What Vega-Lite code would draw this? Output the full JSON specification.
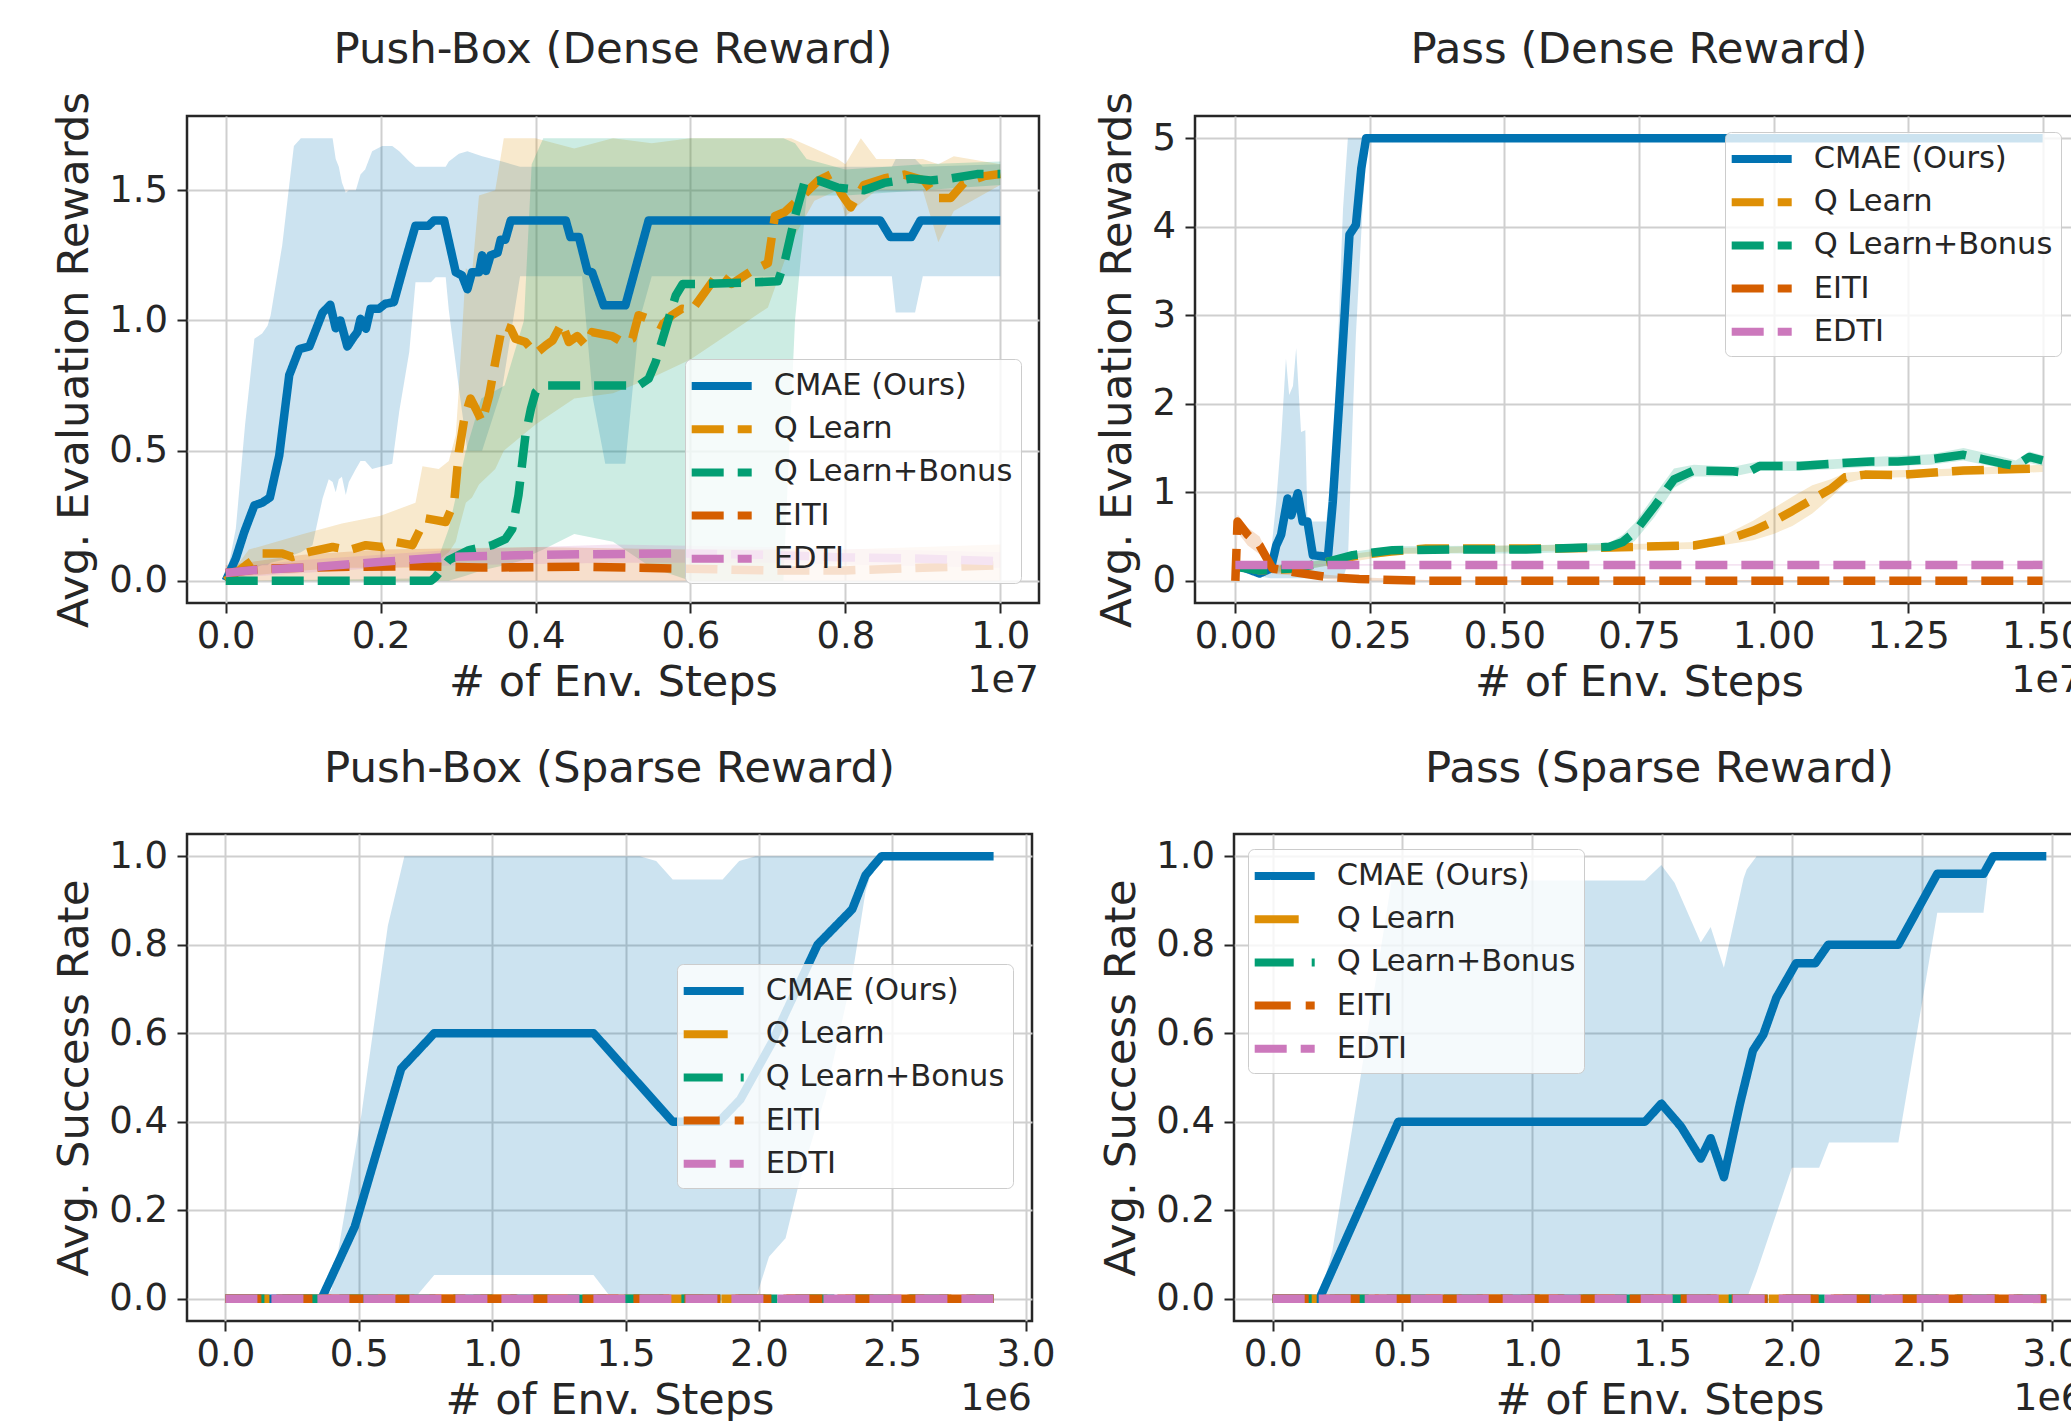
{
"$schema": "https://vega.github.io/schema/vega-lite/v6.json",
"padding": {"left": 51, "top": 26, "right": 0, "bottom": 0},
"background": "white",
"config": {
  "font": "DejaVu Sans",
  "view": {"stroke": "#262626", "strokeWidth": 2.5},
  "title": {"fontSize": 43.5, "fontWeight": "normal", "color": "#262626", "offset": 43, "anchor": "middle", "frame": "group"},
  "axis": {"domain": false, "grid": true, "gridColor": "#cfcfcf", "gridWidth": 2, "ticks": true, "tickSize": 10, "tickWidth": 2, "tickColor": "#262626", "labelFontSize": 37, "labelColor": "#262626", "labelPadding": 5, "labelFlush": false, "labelOverlap": false, "titleColor": "#262626", "titleFontWeight": "normal"},
  "axisX": {"titleFontSize": 43, "titlePadding": 7},
  "axisY": {"titleFontSize": 43.5, "titlePadding": 12, "labelPadding": 9.5},
  "legend": {"labelFontSize": 30.5, "labelColor": "#262626", "labelLimit": 1000, "fillColor": "rgba(255,255,255,0.8)", "strokeColor": "#cccccc", "cornerRadius": 6, "padding": 8, "rowPadding": 8.2, "symbolOffset": 9.7, "labelOffset": 33, "symbolStrokeWidth": 8, "symbolOpacity": 1}
},
"datasets": {
  "tl_mean": [
    {"s":"CMAE (Ours)","x":0,"y":0},{"s":"CMAE (Ours)","x":0.013,"y":0.086},{"s":"CMAE (Ours)","x":0.024,"y":0.188},{"s":"CMAE (Ours)","x":0.037,"y":0.29},{"s":"CMAE (Ours)","x":0.047,"y":0.30},{"s":"CMAE (Ours)","x":0.057,"y":0.32},{"s":"CMAE (Ours)","x":0.069,"y":0.48},{"s":"CMAE (Ours)","x":0.082,"y":0.79},{"s":"CMAE (Ours)","x":0.095,"y":0.89},{"s":"CMAE (Ours)","x":0.108,"y":0.90},{"s":"CMAE (Ours)","x":0.125,"y":1.03},{"s":"CMAE (Ours)","x":0.135,"y":1.06},{"s":"CMAE (Ours)","x":0.142,"y":0.97},{"s":"CMAE (Ours)","x":0.148,"y":1.0},{"s":"CMAE (Ours)","x":0.157,"y":0.90},{"s":"CMAE (Ours)","x":0.166,"y":0.94},{"s":"CMAE (Ours)","x":0.17,"y":0.955},{"s":"CMAE (Ours)","x":0.174,"y":1.006},{"s":"CMAE (Ours)","x":0.181,"y":0.968},{"s":"CMAE (Ours)","x":0.187,"y":1.045},{"s":"CMAE (Ours)","x":0.198,"y":1.045},{"s":"CMAE (Ours)","x":0.206,"y":1.064},{"s":"CMAE (Ours)","x":0.217,"y":1.07},{"s":"CMAE (Ours)","x":0.23,"y":1.21},{"s":"CMAE (Ours)","x":0.245,"y":1.364},{"s":"CMAE (Ours)","x":0.262,"y":1.364},{"s":"CMAE (Ours)","x":0.269,"y":1.384},{"s":"CMAE (Ours)","x":0.282,"y":1.384},{"s":"CMAE (Ours)","x":0.297,"y":1.185},{"s":"CMAE (Ours)","x":0.305,"y":1.173},{"s":"CMAE (Ours)","x":0.312,"y":1.12},{"s":"CMAE (Ours)","x":0.318,"y":1.185},{"s":"CMAE (Ours)","x":0.327,"y":1.185},{"s":"CMAE (Ours)","x":0.331,"y":1.25},{"s":"CMAE (Ours)","x":0.336,"y":1.19},{"s":"CMAE (Ours)","x":0.342,"y":1.25},{"s":"CMAE (Ours)","x":0.351,"y":1.26},{"s":"CMAE (Ours)","x":0.355,"y":1.31},{"s":"CMAE (Ours)","x":0.361,"y":1.31},{"s":"CMAE (Ours)","x":0.368,"y":1.384},{"s":"CMAE (Ours)","x":0.439,"y":1.384},{"s":"CMAE (Ours)","x":0.445,"y":1.32},{"s":"CMAE (Ours)","x":0.456,"y":1.32},{"s":"CMAE (Ours)","x":0.467,"y":1.19},{"s":"CMAE (Ours)","x":0.473,"y":1.185},{"s":"CMAE (Ours)","x":0.488,"y":1.058},{"s":"CMAE (Ours)","x":0.516,"y":1.058},{"s":"CMAE (Ours)","x":0.546,"y":1.384},{"s":"CMAE (Ours)","x":0.845,"y":1.384},{"s":"CMAE (Ours)","x":0.858,"y":1.32},{"s":"CMAE (Ours)","x":0.885,"y":1.32},{"s":"CMAE (Ours)","x":0.897,"y":1.384},{"s":"CMAE (Ours)","x":1.0,"y":1.384},
    {"s":"Q Learn","x":0,"y":0},{"s":"Q Learn","x":0.013,"y":0.03},{"s":"Q Learn","x":0.026,"y":0.06},{"s":"Q Learn","x":0.047,"y":0.105},{"s":"Q Learn","x":0.073,"y":0.105},{"s":"Q Learn","x":0.086,"y":0.092},{"s":"Q Learn","x":0.108,"y":0.111},{"s":"Q Learn","x":0.138,"y":0.13},{"s":"Q Learn","x":0.159,"y":0.118},{"s":"Q Learn","x":0.181,"y":0.137},{"s":"Q Learn","x":0.202,"y":0.13},{"s":"Q Learn","x":0.219,"y":0.15},{"s":"Q Learn","x":0.241,"y":0.137},{"s":"Q Learn","x":0.258,"y":0.24},{"s":"Q Learn","x":0.271,"y":0.233},{"s":"Q Learn","x":0.284,"y":0.226},{"s":"Q Learn","x":0.295,"y":0.303},{"s":"Q Learn","x":0.301,"y":0.495},{"s":"Q Learn","x":0.308,"y":0.623},{"s":"Q Learn","x":0.316,"y":0.70},{"s":"Q Learn","x":0.323,"y":0.66},{"s":"Q Learn","x":0.331,"y":0.61},{"s":"Q Learn","x":0.34,"y":0.71},{"s":"Q Learn","x":0.348,"y":0.84},{"s":"Q Learn","x":0.357,"y":0.98},{"s":"Q Learn","x":0.368,"y":0.968},{"s":"Q Learn","x":0.374,"y":0.93},{"s":"Q Learn","x":0.387,"y":0.917},{"s":"Q Learn","x":0.40,"y":0.872},{"s":"Q Learn","x":0.413,"y":0.904},{"s":"Q Learn","x":0.422,"y":0.923},{"s":"Q Learn","x":0.434,"y":0.99},{"s":"Q Learn","x":0.443,"y":0.917},{"s":"Q Learn","x":0.454,"y":0.94},{"s":"Q Learn","x":0.465,"y":0.904},{"s":"Q Learn","x":0.473,"y":0.955},{"s":"Q Learn","x":0.499,"y":0.94},{"s":"Q Learn","x":0.512,"y":0.917},{"s":"Q Learn","x":0.525,"y":0.93},{"s":"Q Learn","x":0.533,"y":1.02},{"s":"Q Learn","x":0.546,"y":1.006},{"s":"Q Learn","x":0.563,"y":0.98},{"s":"Q Learn","x":0.576,"y":1.02},{"s":"Q Learn","x":0.589,"y":1.045},{"s":"Q Learn","x":0.602,"y":1.04},{"s":"Q Learn","x":0.636,"y":1.18},{"s":"Q Learn","x":0.653,"y":1.14},{"s":"Q Learn","x":0.679,"y":1.19},{"s":"Q Learn","x":0.70,"y":1.22},{"s":"Q Learn","x":0.709,"y":1.40},{"s":"Q Learn","x":0.722,"y":1.417},{"s":"Q Learn","x":0.747,"y":1.485},{"s":"Q Learn","x":0.765,"y":1.537},{"s":"Q Learn","x":0.782,"y":1.562},{"s":"Q Learn","x":0.795,"y":1.485},{"s":"Q Learn","x":0.807,"y":1.434},{"s":"Q Learn","x":0.824,"y":1.52},{"s":"Q Learn","x":0.85,"y":1.545},{"s":"Q Learn","x":0.876,"y":1.56},{"s":"Q Learn","x":0.902,"y":1.537},{"s":"Q Learn","x":0.918,"y":1.47},{"s":"Q Learn","x":0.936,"y":1.47},{"s":"Q Learn","x":0.953,"y":1.528},{"s":"Q Learn","x":0.979,"y":1.554},{"s":"Q Learn","x":1.0,"y":1.562},
    {"s":"Q Learn+Bonus","x":0,"y":0},{"s":"Q Learn+Bonus","x":0.265,"y":0},{"s":"Q Learn+Bonus","x":0.271,"y":0.015},{"s":"Q Learn+Bonus","x":0.288,"y":0.08},{"s":"Q Learn+Bonus","x":0.314,"y":0.118},{"s":"Q Learn+Bonus","x":0.344,"y":0.137},{"s":"Q Learn+Bonus","x":0.361,"y":0.16},{"s":"Q Learn+Bonus","x":0.37,"y":0.2},{"s":"Q Learn+Bonus","x":0.378,"y":0.33},{"s":"Q Learn+Bonus","x":0.387,"y":0.56},{"s":"Q Learn+Bonus","x":0.394,"y":0.66},{"s":"Q Learn+Bonus","x":0.40,"y":0.725},{"s":"Q Learn+Bonus","x":0.409,"y":0.75},{"s":"Q Learn+Bonus","x":0.533,"y":0.75},{"s":"Q Learn+Bonus","x":0.546,"y":0.776},{"s":"Q Learn+Bonus","x":0.555,"y":0.84},{"s":"Q Learn+Bonus","x":0.568,"y":0.968},{"s":"Q Learn+Bonus","x":0.581,"y":1.096},{"s":"Q Learn+Bonus","x":0.59,"y":1.14},{"s":"Q Learn+Bonus","x":0.62,"y":1.14},{"s":"Q Learn+Bonus","x":0.713,"y":1.15},{"s":"Q Learn+Bonus","x":0.722,"y":1.23},{"s":"Q Learn+Bonus","x":0.735,"y":1.40},{"s":"Q Learn+Bonus","x":0.747,"y":1.528},{"s":"Q Learn+Bonus","x":0.765,"y":1.537},{"s":"Q Learn+Bonus","x":0.79,"y":1.51},{"s":"Q Learn+Bonus","x":0.824,"y":1.50},{"s":"Q Learn+Bonus","x":0.85,"y":1.528},{"s":"Q Learn+Bonus","x":0.885,"y":1.545},{"s":"Q Learn+Bonus","x":0.91,"y":1.537},{"s":"Q Learn+Bonus","x":0.936,"y":1.545},{"s":"Q Learn+Bonus","x":0.97,"y":1.562},{"s":"Q Learn+Bonus","x":1.0,"y":1.562},
    {"s":"EITI","x":0,"y":0.03},{"s":"EITI","x":0.05,"y":0.047},{"s":"EITI","x":0.16,"y":0.054},{"s":"EITI","x":0.245,"y":0.056},{"s":"EITI","x":0.33,"y":0.051},{"s":"EITI","x":0.46,"y":0.054},{"s":"EITI","x":0.59,"y":0.047},{"s":"EITI","x":0.7,"y":0.04},{"s":"EITI","x":0.8,"y":0.04},{"s":"EITI","x":0.9,"y":0.05},{"s":"EITI","x":1.0,"y":0.06},
    {"s":"EDTI","x":0,"y":0.03},{"s":"EDTI","x":0.03,"y":0.04},{"s":"EDTI","x":0.116,"y":0.054},{"s":"EDTI","x":0.202,"y":0.073},{"s":"EDTI","x":0.288,"y":0.092},{"s":"EDTI","x":0.374,"y":0.098},{"s":"EDTI","x":0.46,"y":0.102},{"s":"EDTI","x":0.589,"y":0.105},{"s":"EDTI","x":0.7,"y":0.1},{"s":"EDTI","x":0.8,"y":0.09},{"s":"EDTI","x":0.9,"y":0.085},{"s":"EDTI","x":1.0,"y":0.075}
  ],
  "tl_band": [
    {"s":"CMAE (Ours)","x":0,"lo":0,"hi":0},{"s":"CMAE (Ours)","x":0.013,"lo":0.02,"hi":0.2},{"s":"CMAE (Ours)","x":0.025,"lo":0.04,"hi":0.6},{"s":"CMAE (Ours)","x":0.037,"lo":0.05,"hi":0.93},{"s":"CMAE (Ours)","x":0.047,"lo":0.06,"hi":0.95},{"s":"CMAE (Ours)","x":0.054,"lo":0.06,"hi":0.98},{"s":"CMAE (Ours)","x":0.058,"lo":0.07,"hi":1.02},{"s":"CMAE (Ours)","x":0.073,"lo":0.08,"hi":1.29},{"s":"CMAE (Ours)","x":0.082,"lo":0.09,"hi":1.52},{"s":"CMAE (Ours)","x":0.088,"lo":0.1,"hi":1.67},{"s":"CMAE (Ours)","x":0.097,"lo":0.11,"hi":1.70},{"s":"CMAE (Ours)","x":0.112,"lo":0.137,"hi":1.70},{"s":"CMAE (Ours)","x":0.125,"lo":0.316,"hi":1.70},{"s":"CMAE (Ours)","x":0.133,"lo":0.39,"hi":1.70},{"s":"CMAE (Ours)","x":0.138,"lo":0.38,"hi":1.70},{"s":"CMAE (Ours)","x":0.142,"lo":0.34,"hi":1.62},{"s":"CMAE (Ours)","x":0.146,"lo":0.39,"hi":1.59},{"s":"CMAE (Ours)","x":0.15,"lo":0.40,"hi":1.53},{"s":"CMAE (Ours)","x":0.155,"lo":0.33,"hi":1.49},{"s":"CMAE (Ours)","x":0.159,"lo":0.38,"hi":1.50},{"s":"CMAE (Ours)","x":0.168,"lo":0.43,"hi":1.50},{"s":"CMAE (Ours)","x":0.174,"lo":0.46,"hi":1.56},{"s":"CMAE (Ours)","x":0.18,"lo":0.46,"hi":1.58},{"s":"CMAE (Ours)","x":0.189,"lo":0.43,"hi":1.65},{"s":"CMAE (Ours)","x":0.202,"lo":0.44,"hi":1.67},{"s":"CMAE (Ours)","x":0.215,"lo":0.45,"hi":1.67},{"s":"CMAE (Ours)","x":0.224,"lo":0.65,"hi":1.65},{"s":"CMAE (Ours)","x":0.237,"lo":0.88,"hi":1.61},{"s":"CMAE (Ours)","x":0.245,"lo":1.147,"hi":1.59},{"s":"CMAE (Ours)","x":0.265,"lo":1.147,"hi":1.59},{"s":"CMAE (Ours)","x":0.271,"lo":1.166,"hi":1.59},{"s":"CMAE (Ours)","x":0.284,"lo":1.166,"hi":1.59},{"s":"CMAE (Ours)","x":0.288,"lo":1.04,"hi":1.61},{"s":"CMAE (Ours)","x":0.301,"lo":0.74,"hi":1.64},{"s":"CMAE (Ours)","x":0.312,"lo":0.5,"hi":1.65},{"s":"CMAE (Ours)","x":0.331,"lo":0.5,"hi":1.63},{"s":"CMAE (Ours)","x":0.357,"lo":0.74,"hi":1.61},{"s":"CMAE (Ours)","x":0.38,"lo":1.17,"hi":1.59},{"s":"CMAE (Ours)","x":0.46,"lo":1.17,"hi":1.59},{"s":"CMAE (Ours)","x":0.474,"lo":0.7,"hi":1.59},{"s":"CMAE (Ours)","x":0.49,"lo":0.45,"hi":1.59},{"s":"CMAE (Ours)","x":0.516,"lo":0.45,"hi":1.59},{"s":"CMAE (Ours)","x":0.534,"lo":1.0,"hi":1.59},{"s":"CMAE (Ours)","x":0.55,"lo":1.17,"hi":1.59},{"s":"CMAE (Ours)","x":0.86,"lo":1.17,"hi":1.59},{"s":"CMAE (Ours)","x":0.865,"lo":1.03,"hi":1.62},{"s":"CMAE (Ours)","x":0.89,"lo":1.03,"hi":1.62},{"s":"CMAE (Ours)","x":0.9,"lo":1.17,"hi":1.59},{"s":"CMAE (Ours)","x":1.0,"lo":1.17,"hi":1.60},
    {"s":"Q Learn","x":0,"lo":0,"hi":0},{"s":"Q Learn","x":0.03,"lo":0.02,"hi":0.12},{"s":"Q Learn","x":0.1,"lo":0.04,"hi":0.18},{"s":"Q Learn","x":0.15,"lo":0.05,"hi":0.22},{"s":"Q Learn","x":0.2,"lo":0.05,"hi":0.25},{"s":"Q Learn","x":0.245,"lo":0.05,"hi":0.30},{"s":"Q Learn","x":0.254,"lo":0.06,"hi":0.44},{"s":"Q Learn","x":0.275,"lo":0.08,"hi":0.43},{"s":"Q Learn","x":0.288,"lo":0.11,"hi":0.46},{"s":"Q Learn","x":0.297,"lo":0.15,"hi":0.56},{"s":"Q Learn","x":0.301,"lo":0.2,"hi":0.74},{"s":"Q Learn","x":0.31,"lo":0.30,"hi":1.2},{"s":"Q Learn","x":0.318,"lo":0.32,"hi":1.18},{"s":"Q Learn","x":0.327,"lo":0.37,"hi":1.48},{"s":"Q Learn","x":0.348,"lo":0.43,"hi":1.5},{"s":"Q Learn","x":0.359,"lo":0.5,"hi":1.70},{"s":"Q Learn","x":0.4,"lo":0.6,"hi":1.70},{"s":"Q Learn","x":0.45,"lo":0.7,"hi":1.66},{"s":"Q Learn","x":0.5,"lo":0.72,"hi":1.70},{"s":"Q Learn","x":0.55,"lo":0.78,"hi":1.68},{"s":"Q Learn","x":0.6,"lo":0.85,"hi":1.70},{"s":"Q Learn","x":0.65,"lo":0.95,"hi":1.70},{"s":"Q Learn","x":0.7,"lo":1.05,"hi":1.70},{"s":"Q Learn","x":0.73,"lo":1.3,"hi":1.70},{"s":"Q Learn","x":0.76,"lo":1.46,"hi":1.66},{"s":"Q Learn","x":0.79,"lo":1.50,"hi":1.62},{"s":"Q Learn","x":0.80,"lo":1.40,"hi":1.60},{"s":"Q Learn","x":0.82,"lo":1.45,"hi":1.70},{"s":"Q Learn","x":0.84,"lo":1.5,"hi":1.62},{"s":"Q Learn","x":0.9,"lo":1.5,"hi":1.62},{"s":"Q Learn","x":0.92,"lo":1.30,"hi":1.60},{"s":"Q Learn","x":0.94,"lo":1.42,"hi":1.63},{"s":"Q Learn","x":1.0,"lo":1.52,"hi":1.60},
    {"s":"Q Learn+Bonus","x":0,"lo":0,"hi":0},{"s":"Q Learn+Bonus","x":0.265,"lo":0,"hi":0.01},{"s":"Q Learn+Bonus","x":0.288,"lo":0,"hi":0.2},{"s":"Q Learn+Bonus","x":0.31,"lo":0.02,"hi":0.5},{"s":"Q Learn+Bonus","x":0.33,"lo":0.04,"hi":0.7},{"s":"Q Learn+Bonus","x":0.36,"lo":0.06,"hi":0.75},{"s":"Q Learn+Bonus","x":0.385,"lo":0.08,"hi":1.0},{"s":"Q Learn+Bonus","x":0.395,"lo":0.1,"hi":1.6},{"s":"Q Learn+Bonus","x":0.41,"lo":0.12,"hi":1.70},{"s":"Q Learn+Bonus","x":0.45,"lo":0.18,"hi":1.70},{"s":"Q Learn+Bonus","x":0.5,"lo":0.15,"hi":1.70},{"s":"Q Learn+Bonus","x":0.55,"lo":0.05,"hi":1.70},{"s":"Q Learn+Bonus","x":0.6,"lo":0,"hi":1.70},{"s":"Q Learn+Bonus","x":0.72,"lo":0,"hi":1.70},{"s":"Q Learn+Bonus","x":0.735,"lo":1.0,"hi":1.68},{"s":"Q Learn+Bonus","x":0.75,"lo":1.48,"hi":1.62},{"s":"Q Learn+Bonus","x":0.8,"lo":1.48,"hi":1.58},{"s":"Q Learn+Bonus","x":0.9,"lo":1.5,"hi":1.6},{"s":"Q Learn+Bonus","x":1.0,"lo":1.52,"hi":1.61},
    {"s":"EITI","x":0,"lo":0,"hi":0.06},{"s":"EITI","x":0.1,"lo":0,"hi":0.1},{"s":"EITI","x":0.2,"lo":0,"hi":0.12},{"s":"EITI","x":0.4,"lo":0,"hi":0.13},{"s":"EITI","x":0.6,"lo":0,"hi":0.12},{"s":"EITI","x":0.8,"lo":0,"hi":0.12},{"s":"EITI","x":1.0,"lo":0,"hi":0.14},
    {"s":"EDTI","x":0,"lo":0.01,"hi":0.05},{"s":"EDTI","x":0.1,"lo":0.03,"hi":0.08},{"s":"EDTI","x":0.2,"lo":0.05,"hi":0.1},{"s":"EDTI","x":0.3,"lo":0.06,"hi":0.12},{"s":"EDTI","x":0.5,"lo":0.07,"hi":0.14},{"s":"EDTI","x":0.7,"lo":0.07,"hi":0.13},{"s":"EDTI","x":1.0,"lo":0.05,"hi":0.11}
  ],
  "tr_mean": [
    {"s":"CMAE (Ours)","x":0,"y":0.18},{"s":"CMAE (Ours)","x":0.02,"y":0.14},{"s":"CMAE (Ours)","x":0.045,"y":0.083},{"s":"CMAE (Ours)","x":0.066,"y":0.14},{"s":"CMAE (Ours)","x":0.076,"y":0.40},{"s":"CMAE (Ours)","x":0.085,"y":0.52},{"s":"CMAE (Ours)","x":0.097,"y":0.93},{"s":"CMAE (Ours)","x":0.104,"y":0.74},{"s":"CMAE (Ours)","x":0.116,"y":0.99},{"s":"CMAE (Ours)","x":0.125,"y":0.67},{"s":"CMAE (Ours)","x":0.134,"y":0.67},{"s":"CMAE (Ours)","x":0.144,"y":0.29},{"s":"CMAE (Ours)","x":0.172,"y":0.27},{"s":"CMAE (Ours)","x":0.181,"y":0.89},{"s":"CMAE (Ours)","x":0.193,"y":2.02},{"s":"CMAE (Ours)","x":0.203,"y":3.0},{"s":"CMAE (Ours)","x":0.212,"y":3.91},{"s":"CMAE (Ours)","x":0.224,"y":4.02},{"s":"CMAE (Ours)","x":0.234,"y":4.66},{"s":"CMAE (Ours)","x":0.243,"y":5.0},{"s":"CMAE (Ours)","x":1.5,"y":5.0},
    {"s":"Q Learn","x":0,"y":0.18},{"s":"Q Learn","x":0.045,"y":0.12},{"s":"Q Learn","x":0.1,"y":0.13},{"s":"Q Learn","x":0.169,"y":0.21},{"s":"Q Learn","x":0.23,"y":0.29},{"s":"Q Learn","x":0.29,"y":0.33},{"s":"Q Learn","x":0.354,"y":0.365},{"s":"Q Learn","x":0.478,"y":0.365},{"s":"Q Learn","x":0.6,"y":0.365},{"s":"Q Learn","x":0.717,"y":0.38},{"s":"Q Learn","x":0.852,"y":0.40},{"s":"Q Learn","x":0.913,"y":0.465},{"s":"Q Learn","x":0.962,"y":0.565},{"s":"Q Learn","x":0.998,"y":0.667},{"s":"Q Learn","x":1.035,"y":0.79},{"s":"Q Learn","x":1.072,"y":0.92},{"s":"Q Learn","x":1.108,"y":1.045},{"s":"Q Learn","x":1.133,"y":1.17},{"s":"Q Learn","x":1.17,"y":1.2},{"s":"Q Learn","x":1.231,"y":1.196},{"s":"Q Learn","x":1.292,"y":1.22},{"s":"Q Learn","x":1.353,"y":1.247},{"s":"Q Learn","x":1.414,"y":1.257},{"s":"Q Learn","x":1.5,"y":1.27},
    {"s":"Q Learn+Bonus","x":0,"y":0.16},{"s":"Q Learn+Bonus","x":0.045,"y":0.12},{"s":"Q Learn+Bonus","x":0.107,"y":0.14},{"s":"Q Learn+Bonus","x":0.169,"y":0.21},{"s":"Q Learn+Bonus","x":0.218,"y":0.29},{"s":"Q Learn+Bonus","x":0.292,"y":0.347},{"s":"Q Learn+Bonus","x":0.416,"y":0.354},{"s":"Q Learn+Bonus","x":0.54,"y":0.354},{"s":"Q Learn+Bonus","x":0.695,"y":0.384},{"s":"Q Learn+Bonus","x":0.72,"y":0.44},{"s":"Q Learn+Bonus","x":0.742,"y":0.55},{"s":"Q Learn+Bonus","x":0.779,"y":0.843},{"s":"Q Learn+Bonus","x":0.815,"y":1.146},{"s":"Q Learn+Bonus","x":0.852,"y":1.247},{"s":"Q Learn+Bonus","x":0.925,"y":1.237},{"s":"Q Learn+Bonus","x":0.95,"y":1.22},{"s":"Q Learn+Bonus","x":0.974,"y":1.297},{"s":"Q Learn+Bonus","x":1.048,"y":1.297},{"s":"Q Learn+Bonus","x":1.108,"y":1.323},{"s":"Q Learn+Bonus","x":1.182,"y":1.348},{"s":"Q Learn+Bonus","x":1.231,"y":1.348},{"s":"Q Learn+Bonus","x":1.292,"y":1.373},{"s":"Q Learn+Bonus","x":1.353,"y":1.424},{"s":"Q Learn+Bonus","x":1.39,"y":1.373},{"s":"Q Learn+Bonus","x":1.426,"y":1.323},{"s":"Q Learn+Bonus","x":1.45,"y":1.297},{"s":"Q Learn+Bonus","x":1.475,"y":1.40},{"s":"Q Learn+Bonus","x":1.5,"y":1.36},
    {"s":"EITI","x":0,"y":0},{"s":"EITI","x":0.004,"y":0.67},{"s":"EITI","x":0.023,"y":0.52},{"s":"EITI","x":0.045,"y":0.40},{"s":"EITI","x":0.069,"y":0.14},{"s":"EITI","x":0.107,"y":0.10},{"s":"EITI","x":0.169,"y":0.045},{"s":"EITI","x":0.23,"y":0.02},{"s":"EITI","x":0.354,"y":0},{"s":"EITI","x":1.5,"y":0},
    {"s":"EDTI","x":0,"y":0.18},{"s":"EDTI","x":1.5,"y":0.18}
  ],
  "tr_band": [
    {"s":"CMAE (Ours)","x":0,"lo":0.15,"hi":0.21},{"s":"CMAE (Ours)","x":0.02,"lo":0.1,"hi":0.18},{"s":"CMAE (Ours)","x":0.045,"lo":0.05,"hi":0.12},{"s":"CMAE (Ours)","x":0.066,"lo":0.03,"hi":0.3},{"s":"CMAE (Ours)","x":0.076,"lo":0.03,"hi":0.9},{"s":"CMAE (Ours)","x":0.085,"lo":0.03,"hi":1.6},{"s":"CMAE (Ours)","x":0.094,"lo":0.03,"hi":2.51},{"s":"CMAE (Ours)","x":0.1,"lo":0.03,"hi":2.1},{"s":"CMAE (Ours)","x":0.107,"lo":0.03,"hi":2.2},{"s":"CMAE (Ours)","x":0.113,"lo":0.03,"hi":2.63},{"s":"CMAE (Ours)","x":0.122,"lo":0.03,"hi":1.68},{"s":"CMAE (Ours)","x":0.13,"lo":0.03,"hi":1.7},{"s":"CMAE (Ours)","x":0.134,"lo":0.03,"hi":0.67},{"s":"CMAE (Ours)","x":0.169,"lo":0.03,"hi":0.67},{"s":"CMAE (Ours)","x":0.18,"lo":0.03,"hi":1.3},{"s":"CMAE (Ours)","x":0.19,"lo":0.03,"hi":2.6},{"s":"CMAE (Ours)","x":0.2,"lo":0.03,"hi":4.2},{"s":"CMAE (Ours)","x":0.209,"lo":0.2,"hi":5.0},{"s":"CMAE (Ours)","x":0.218,"lo":1.83,"hi":5.0},{"s":"CMAE (Ours)","x":0.224,"lo":2.78,"hi":5.0},{"s":"CMAE (Ours)","x":0.237,"lo":4.28,"hi":5.0},{"s":"CMAE (Ours)","x":0.246,"lo":5.0,"hi":5.0},{"s":"CMAE (Ours)","x":1.5,"lo":5.0,"hi":5.0},
    {"s":"Q Learn","x":0,"lo":0.14,"hi":0.22},{"s":"Q Learn","x":0.1,"lo":0.1,"hi":0.16},{"s":"Q Learn","x":0.2,"lo":0.2,"hi":0.29},{"s":"Q Learn","x":0.3,"lo":0.3,"hi":0.37},{"s":"Q Learn","x":0.5,"lo":0.33,"hi":0.4},{"s":"Q Learn","x":0.717,"lo":0.35,"hi":0.41},{"s":"Q Learn","x":0.852,"lo":0.36,"hi":0.44},{"s":"Q Learn","x":0.913,"lo":0.41,"hi":0.53},{"s":"Q Learn","x":0.962,"lo":0.46,"hi":0.68},{"s":"Q Learn","x":1.0,"lo":0.53,"hi":0.82},{"s":"Q Learn","x":1.035,"lo":0.62,"hi":0.95},{"s":"Q Learn","x":1.072,"lo":0.76,"hi":1.08},{"s":"Q Learn","x":1.108,"lo":0.95,"hi":1.15},{"s":"Q Learn","x":1.133,"lo":1.1,"hi":1.22},{"s":"Q Learn","x":1.17,"lo":1.16,"hi":1.24},{"s":"Q Learn","x":1.3,"lo":1.18,"hi":1.26},{"s":"Q Learn","x":1.5,"lo":1.23,"hi":1.31},
    {"s":"Q Learn+Bonus","x":0,"lo":0.12,"hi":0.2},{"s":"Q Learn+Bonus","x":0.045,"lo":0.08,"hi":0.16},{"s":"Q Learn+Bonus","x":0.107,"lo":0.1,"hi":0.18},{"s":"Q Learn+Bonus","x":0.169,"lo":0.17,"hi":0.25},{"s":"Q Learn+Bonus","x":0.218,"lo":0.25,"hi":0.33},{"s":"Q Learn+Bonus","x":0.292,"lo":0.31,"hi":0.39},{"s":"Q Learn+Bonus","x":0.54,"lo":0.31,"hi":0.4},{"s":"Q Learn+Bonus","x":0.695,"lo":0.34,"hi":0.43},{"s":"Q Learn+Bonus","x":0.72,"lo":0.38,"hi":0.52},{"s":"Q Learn+Bonus","x":0.742,"lo":0.45,"hi":0.65},{"s":"Q Learn+Bonus","x":0.779,"lo":0.72,"hi":0.97},{"s":"Q Learn+Bonus","x":0.815,"lo":1.05,"hi":1.27},{"s":"Q Learn+Bonus","x":0.852,"lo":1.18,"hi":1.31},{"s":"Q Learn+Bonus","x":0.925,"lo":1.18,"hi":1.29},{"s":"Q Learn+Bonus","x":0.974,"lo":1.24,"hi":1.35},{"s":"Q Learn+Bonus","x":1.048,"lo":1.24,"hi":1.35},{"s":"Q Learn+Bonus","x":1.182,"lo":1.29,"hi":1.4},{"s":"Q Learn+Bonus","x":1.292,"lo":1.31,"hi":1.43},{"s":"Q Learn+Bonus","x":1.353,"lo":1.36,"hi":1.5},{"s":"Q Learn+Bonus","x":1.426,"lo":1.27,"hi":1.4},{"s":"Q Learn+Bonus","x":1.45,"lo":1.25,"hi":1.36},{"s":"Q Learn+Bonus","x":1.475,"lo":1.33,"hi":1.46},{"s":"Q Learn+Bonus","x":1.5,"lo":1.3,"hi":1.42},
    {"s":"EITI","x":0,"lo":0,"hi":0.05},{"s":"EITI","x":0.004,"lo":0.55,"hi":0.75},{"s":"EITI","x":0.023,"lo":0.4,"hi":0.6},{"s":"EITI","x":0.045,"lo":0.3,"hi":0.5},{"s":"EITI","x":0.069,"lo":0.08,"hi":0.2},{"s":"EITI","x":0.107,"lo":0.06,"hi":0.14},{"s":"EITI","x":0.169,"lo":0.02,"hi":0.07},{"s":"EITI","x":0.23,"lo":0,"hi":0.04},{"s":"EITI","x":0.354,"lo":0,"hi":0.01},{"s":"EITI","x":1.5,"lo":0,"hi":0.01},
    {"s":"EDTI","x":0,"lo":0.17,"hi":0.19},{"s":"EDTI","x":1.5,"lo":0.17,"hi":0.19}
  ],
  "bl_mean": [
    {"s":"CMAE (Ours)","x":0,"y":0},{"s":"CMAE (Ours)","x":0.36,"y":0},{"s":"CMAE (Ours)","x":0.485,"y":0.163},{"s":"CMAE (Ours)","x":0.659,"y":0.52},{"s":"CMAE (Ours)","x":0.783,"y":0.60},{"s":"CMAE (Ours)","x":1.38,"y":0.60},{"s":"CMAE (Ours)","x":1.677,"y":0.40},{"s":"CMAE (Ours)","x":1.85,"y":0.40},{"s":"CMAE (Ours)","x":1.93,"y":0.45},{"s":"CMAE (Ours)","x":2.05,"y":0.58},{"s":"CMAE (Ours)","x":2.1,"y":0.646},{"s":"CMAE (Ours)","x":2.22,"y":0.80},{"s":"CMAE (Ours)","x":2.35,"y":0.88},{"s":"CMAE (Ours)","x":2.40,"y":0.957},{"s":"CMAE (Ours)","x":2.46,"y":1.0},{"s":"CMAE (Ours)","x":2.88,"y":1.0},
    {"s":"Q Learn","x":0,"y":0},{"s":"Q Learn","x":2.88,"y":0},
    {"s":"Q Learn+Bonus","x":0,"y":0},{"s":"Q Learn+Bonus","x":2.88,"y":0},
    {"s":"EITI","x":0,"y":0},{"s":"EITI","x":2.88,"y":0},
    {"s":"EDTI","x":0,"y":0},{"s":"EDTI","x":2.88,"y":0}
  ],
  "bl_band": [
    {"s":"CMAE (Ours)","x":0,"lo":0,"hi":0},{"s":"CMAE (Ours)","x":0.36,"lo":0,"hi":0},{"s":"CMAE (Ours)","x":0.398,"lo":0,"hi":0.02},{"s":"CMAE (Ours)","x":0.51,"lo":0,"hi":0.417},{"s":"CMAE (Ours)","x":0.609,"lo":0,"hi":0.843},{"s":"CMAE (Ours)","x":0.671,"lo":0,"hi":1.0},{"s":"CMAE (Ours)","x":0.708,"lo":0,"hi":1.0},{"s":"CMAE (Ours)","x":0.783,"lo":0.054,"hi":1.0},{"s":"CMAE (Ours)","x":1.38,"lo":0.054,"hi":1.0},{"s":"CMAE (Ours)","x":1.44,"lo":0.007,"hi":1.0},{"s":"CMAE (Ours)","x":1.553,"lo":0,"hi":1.0},{"s":"CMAE (Ours)","x":1.615,"lo":0,"hi":0.989},{"s":"CMAE (Ours)","x":1.677,"lo":0,"hi":0.947},{"s":"CMAE (Ours)","x":1.864,"lo":0,"hi":0.947},{"s":"CMAE (Ours)","x":1.926,"lo":0,"hi":0.989},{"s":"CMAE (Ours)","x":1.988,"lo":0,"hi":1.0},{"s":"CMAE (Ours)","x":2.038,"lo":0.095,"hi":1.0},{"s":"CMAE (Ours)","x":2.1,"lo":0.137,"hi":1.0},{"s":"CMAE (Ours)","x":2.15,"lo":0.26,"hi":1.0},{"s":"CMAE (Ours)","x":2.25,"lo":0.46,"hi":1.0},{"s":"CMAE (Ours)","x":2.35,"lo":0.73,"hi":1.0},{"s":"CMAE (Ours)","x":2.40,"lo":0.92,"hi":1.0},{"s":"CMAE (Ours)","x":2.44,"lo":1.0,"hi":1.0},{"s":"CMAE (Ours)","x":2.88,"lo":1.0,"hi":1.0}
  ],
  "br_mean": [
    {"s":"CMAE (Ours)","x":0,"y":0},{"s":"CMAE (Ours)","x":0.18,"y":0},{"s":"CMAE (Ours)","x":0.484,"y":0.40},{"s":"CMAE (Ours)","x":1.434,"y":0.40},{"s":"CMAE (Ours)","x":1.497,"y":0.441},{"s":"CMAE (Ours)","x":1.573,"y":0.389},{"s":"CMAE (Ours)","x":1.649,"y":0.317},{"s":"CMAE (Ours)","x":1.687,"y":0.363},{"s":"CMAE (Ours)","x":1.738,"y":0.275},{"s":"CMAE (Ours)","x":1.80,"y":0.441},{"s":"CMAE (Ours)","x":1.85,"y":0.561},{"s":"CMAE (Ours)","x":1.89,"y":0.597},{"s":"CMAE (Ours)","x":1.94,"y":0.68},{"s":"CMAE (Ours)","x":2.016,"y":0.758},{"s":"CMAE (Ours)","x":2.09,"y":0.758},{"s":"CMAE (Ours)","x":2.14,"y":0.80},{"s":"CMAE (Ours)","x":2.41,"y":0.80},{"s":"CMAE (Ours)","x":2.56,"y":0.96},{"s":"CMAE (Ours)","x":2.738,"y":0.96},{"s":"CMAE (Ours)","x":2.776,"y":1.0},{"s":"CMAE (Ours)","x":2.98,"y":1.0},
    {"s":"Q Learn","x":0,"y":0},{"s":"Q Learn","x":2.98,"y":0},
    {"s":"Q Learn+Bonus","x":0,"y":0},{"s":"Q Learn+Bonus","x":2.98,"y":0},
    {"s":"EITI","x":0,"y":0},{"s":"EITI","x":2.98,"y":0},
    {"s":"EDTI","x":0,"y":0},{"s":"EDTI","x":2.98,"y":0}
  ],
  "br_band": [
    {"s":"CMAE (Ours)","x":0,"lo":0,"hi":0},{"s":"CMAE (Ours)","x":0.18,"lo":0,"hi":0},{"s":"CMAE (Ours)","x":0.23,"lo":0,"hi":0.109},{"s":"CMAE (Ours)","x":0.33,"lo":0,"hi":0.47},{"s":"CMAE (Ours)","x":0.458,"lo":0,"hi":0.945},{"s":"CMAE (Ours)","x":1.434,"lo":0,"hi":0.945},{"s":"CMAE (Ours)","x":1.497,"lo":0,"hi":0.98},{"s":"CMAE (Ours)","x":1.548,"lo":0,"hi":0.94},{"s":"CMAE (Ours)","x":1.649,"lo":0,"hi":0.805},{"s":"CMAE (Ours)","x":1.687,"lo":0,"hi":0.84},{"s":"CMAE (Ours)","x":1.738,"lo":0,"hi":0.748},{"s":"CMAE (Ours)","x":1.814,"lo":0,"hi":0.95},{"s":"CMAE (Ours)","x":1.826,"lo":0,"hi":0.97},{"s":"CMAE (Ours)","x":1.864,"lo":0.06,"hi":1.0},{"s":"CMAE (Ours)","x":2.0,"lo":0.296,"hi":1.0},{"s":"CMAE (Ours)","x":2.105,"lo":0.296,"hi":1.0},{"s":"CMAE (Ours)","x":2.143,"lo":0.353,"hi":1.0},{"s":"CMAE (Ours)","x":2.41,"lo":0.353,"hi":1.0},{"s":"CMAE (Ours)","x":2.56,"lo":0.872,"hi":1.0},{"s":"CMAE (Ours)","x":2.738,"lo":0.872,"hi":1.0},{"s":"CMAE (Ours)","x":2.763,"lo":1.0,"hi":1.0},{"s":"CMAE (Ours)","x":2.98,"lo":1.0,"hi":1.0}
  ]
},
"spacing": 39,
"resolve": {"scale": {"color": "independent", "strokeDash": "independent", "fill": "independent"}, "legend": {"color": "independent", "strokeDash": "independent"}},
"vconcat": [
 {
  "spacing": 156, "bounds": "flush",
  "resolve": {"scale": {"color": "independent", "strokeDash": "independent", "fill": "independent", "x": "independent", "y": "independent"}, "legend": {"color": "independent", "strokeDash": "independent"}},
  "hconcat": [
   {
    "width": 852, "height": 487,
    "title": {"text": "Push-Box (Dense Reward)", "offset": 19},
    "layer": [
     {"data": {"name": "tl_band"}, "mark": {"type": "area", "opacity": 0.2},
      "encoding": {
        "x": {"field": "x", "type": "quantitative", "scale": {"domain": [-0.05, 1.05], "nice": false, "zero": false}, "axis": {"values": [0, 0.2, 0.4, 0.6, 0.8, 1.0], "format": ".1f", "title": "# of Env. Steps"}},
        "y": {"field": "lo", "type": "quantitative", "stack": null, "scale": {"domain": [-0.085, 1.785], "nice": false, "zero": false}, "axis": {"values": [0, 0.5, 1.0, 1.5], "format": ".1f", "title": "Avg. Evaluation Rewards"}},
        "y2": {"field": "hi"},
        "fill": {"field": "s", "type": "nominal", "scale": {"domain": ["EDTI", "EITI", "Q Learn+Bonus", "Q Learn", "CMAE (Ours)"], "range": ["#cc78bc", "#d55e00", "#029e73", "#de8f05", "#0173b2"]}, "legend": null}
      }},
     {"data": {"name": "tl_mean"}, "mark": {"type": "line", "strokeWidth": 8.5, "strokeJoin": "round"},
      "encoding": {
        "x": {"field": "x", "type": "quantitative"},
        "y": {"field": "y", "type": "quantitative"},
        "color": {"field": "s", "type": "nominal", "scale": {"domain": ["CMAE (Ours)", "Q Learn", "Q Learn+Bonus", "EITI", "EDTI"], "range": ["#0173b2", "#de8f05", "#029e73", "#d55e00", "#cc78bc"]}, "legend": {"title": null, "orient": "none", "legendX": 498, "legendY": 243, "symbolType": "M-2,0H2", "symbolSize": 900}},
        "strokeDash": {"field": "s", "type": "nominal", "scale": {"domain": ["CMAE (Ours)", "Q Learn", "Q Learn+Bonus", "EITI", "EDTI"], "range": [[1, 0], [32, 14], [32, 14], [32, 14], [32, 14]]}, "legend": {"title": null, "orient": "none", "legendX": 498, "legendY": 243, "symbolType": "M-2,0H2", "symbolSize": 900}}
      }},
     {"data": {"values": [{"t": "1e7"}]}, "mark": {"type": "text", "align": "right", "baseline": "alphabetic", "dy": 88.5, "fontSize": 38, "color": "#262626"},
      "encoding": {"x": {"datum": 1.05, "type": "quantitative"}, "y": {"datum": -0.085, "type": "quantitative"}, "text": {"field": "t"}}}
    ]
   },
   {
    "width": 888, "height": 487,
    "title": {"text": "Pass (Dense Reward)", "offset": 19},
    "layer": [
     {"data": {"name": "tr_band"}, "mark": {"type": "area", "opacity": 0.2},
      "encoding": {
        "x": {"field": "x", "type": "quantitative", "scale": {"domain": [-0.075, 1.575], "nice": false, "zero": false}, "axis": {"values": [0, 0.25, 0.5, 0.75, 1.0, 1.25, 1.5], "format": ".2f", "title": "# of Env. Steps"}},
        "y": {"field": "lo", "type": "quantitative", "stack": null, "scale": {"domain": [-0.25, 5.25], "nice": false, "zero": false}, "axis": {"values": [0, 1, 2, 3, 4, 5], "format": "d", "title": "Avg. Evaluation Rewards"}},
        "y2": {"field": "hi"},
        "fill": {"field": "s", "type": "nominal", "scale": {"domain": ["EDTI", "EITI", "Q Learn+Bonus", "Q Learn", "CMAE (Ours)"], "range": ["#cc78bc", "#d55e00", "#029e73", "#de8f05", "#0173b2"]}, "legend": null}
      }},
     {"data": {"name": "tr_mean"}, "mark": {"type": "line", "strokeWidth": 8.5, "strokeJoin": "round"},
      "encoding": {
        "x": {"field": "x", "type": "quantitative"},
        "y": {"field": "y", "type": "quantitative"},
        "color": {"field": "s", "type": "nominal", "scale": {"domain": ["CMAE (Ours)", "Q Learn", "Q Learn+Bonus", "EITI", "EDTI"], "range": ["#0173b2", "#de8f05", "#029e73", "#d55e00", "#cc78bc"]}, "legend": {"title": null, "orient": "none", "legendX": 530, "legendY": 16, "symbolType": "M-2,0H2", "symbolSize": 900}},
        "strokeDash": {"field": "s", "type": "nominal", "scale": {"domain": ["CMAE (Ours)", "Q Learn", "Q Learn+Bonus", "EITI", "EDTI"], "range": [[1, 0], [32, 14], [32, 14], [32, 14], [32, 14]]}, "legend": {"title": null, "orient": "none", "legendX": 530, "legendY": 16, "symbolType": "M-2,0H2", "symbolSize": 900}}
      }},
     {"data": {"values": [{"t": "1e7"}]}, "mark": {"type": "text", "align": "right", "baseline": "alphabetic", "dy": 88.5, "fontSize": 38, "color": "#262626"},
      "encoding": {"x": {"datum": 1.575, "type": "quantitative"}, "y": {"datum": -0.25, "type": "quantitative"}, "text": {"field": "t"}}}
    ]
   }
  ]
 },
 {
  "spacing": 202, "bounds": "flush",
  "resolve": {"scale": {"color": "independent", "strokeDash": "independent", "fill": "independent", "x": "independent", "y": "independent"}, "legend": {"color": "independent", "strokeDash": "independent"}},
  "hconcat": [
   {
    "width": 845, "height": 487,
    "title": "Push-Box (Sparse Reward)",
    "layer": [
     {"data": {"name": "bl_band"}, "mark": {"type": "area", "opacity": 0.2},
      "encoding": {
        "x": {"field": "x", "type": "quantitative", "scale": {"domain": [-0.144, 3.024], "nice": false, "zero": false}, "axis": {"values": [0, 0.5, 1.0, 1.5, 2.0, 2.5, 3.0], "format": ".1f", "title": "# of Env. Steps"}},
        "y": {"field": "lo", "type": "quantitative", "stack": null, "scale": {"domain": [-0.05, 1.05], "nice": false, "zero": false}, "axis": {"values": [0, 0.2, 0.4, 0.6, 0.8, 1.0], "format": ".1f", "title": "Avg. Success Rate"}},
        "y2": {"field": "hi"},
        "fill": {"field": "s", "type": "nominal", "scale": {"domain": ["EDTI", "EITI", "Q Learn+Bonus", "Q Learn", "CMAE (Ours)"], "range": ["#cc78bc", "#d55e00", "#029e73", "#de8f05", "#0173b2"]}, "legend": null}
      }},
     {"data": {"name": "bl_mean"}, "mark": {"type": "line", "strokeWidth": 8.5, "strokeJoin": "round"},
      "encoding": {
        "x": {"field": "x", "type": "quantitative"},
        "y": {"field": "y", "type": "quantitative"},
        "color": {"field": "s", "type": "nominal", "scale": {"domain": ["CMAE (Ours)", "Q Learn", "Q Learn+Bonus", "EITI", "EDTI"], "range": ["#0173b2", "#de8f05", "#029e73", "#d55e00", "#cc78bc"]}, "legend": {"title": null, "orient": "none", "legendX": 490, "legendY": 130, "symbolType": "M-2,0H2", "symbolSize": 900}},
        "strokeDash": {"field": "s", "type": "nominal", "scale": {"domain": ["CMAE (Ours)", "Q Learn", "Q Learn+Bonus", "EITI", "EDTI"], "range": [[1, 0], [44, 18], [39, 18], [36, 15], [32, 14]]}, "legend": {"title": null, "orient": "none", "legendX": 490, "legendY": 130, "symbolType": "M-2,0H2", "symbolSize": 900}}
      }},
     {"data": {"values": [{"t": "1e6"}]}, "mark": {"type": "text", "align": "right", "baseline": "alphabetic", "dy": 88.5, "fontSize": 38, "color": "#262626"},
      "encoding": {"x": {"datum": 3.024, "type": "quantitative"}, "y": {"datum": -0.05, "type": "quantitative"}, "text": {"field": "t"}}}
    ]
   },
   {
    "width": 851, "height": 487,
    "title": "Pass (Sparse Reward)",
    "layer": [
     {"data": {"name": "br_band"}, "mark": {"type": "area", "opacity": 0.2},
      "encoding": {
        "x": {"field": "x", "type": "quantitative", "scale": {"domain": [-0.149, 3.129], "nice": false, "zero": false}, "axis": {"values": [0, 0.5, 1.0, 1.5, 2.0, 2.5, 3.0], "format": ".1f", "title": "# of Env. Steps"}},
        "y": {"field": "lo", "type": "quantitative", "stack": null, "scale": {"domain": [-0.05, 1.05], "nice": false, "zero": false}, "axis": {"values": [0, 0.2, 0.4, 0.6, 0.8, 1.0], "format": ".1f", "title": "Avg. Success Rate"}},
        "y2": {"field": "hi"},
        "fill": {"field": "s", "type": "nominal", "scale": {"domain": ["EDTI", "EITI", "Q Learn+Bonus", "Q Learn", "CMAE (Ours)"], "range": ["#cc78bc", "#d55e00", "#029e73", "#de8f05", "#0173b2"]}, "legend": null}
      }},
     {"data": {"name": "br_mean"}, "mark": {"type": "line", "strokeWidth": 8.5, "strokeJoin": "round"},
      "encoding": {
        "x": {"field": "x", "type": "quantitative"},
        "y": {"field": "y", "type": "quantitative"},
        "color": {"field": "s", "type": "nominal", "scale": {"domain": ["CMAE (Ours)", "Q Learn", "Q Learn+Bonus", "EITI", "EDTI"], "range": ["#0173b2", "#de8f05", "#029e73", "#d55e00", "#cc78bc"]}, "legend": {"title": null, "orient": "none", "legendX": 14, "legendY": 15, "symbolType": "M-2,0H2", "symbolSize": 900}},
        "strokeDash": {"field": "s", "type": "nominal", "scale": {"domain": ["CMAE (Ours)", "Q Learn", "Q Learn+Bonus", "EITI", "EDTI"], "range": [[1, 0], [44, 18], [39, 18], [36, 15], [32, 14]]}, "legend": {"title": null, "orient": "none", "legendX": 14, "legendY": 15, "symbolType": "M-2,0H2", "symbolSize": 900}}
      }},
     {"data": {"values": [{"t": "1e6"}]}, "mark": {"type": "text", "align": "right", "baseline": "alphabetic", "dy": 88.5, "fontSize": 38, "color": "#262626"},
      "encoding": {"x": {"datum": 3.129, "type": "quantitative"}, "y": {"datum": -0.05, "type": "quantitative"}, "text": {"field": "t"}}}
    ]
   }
  ]
 }
]
}
